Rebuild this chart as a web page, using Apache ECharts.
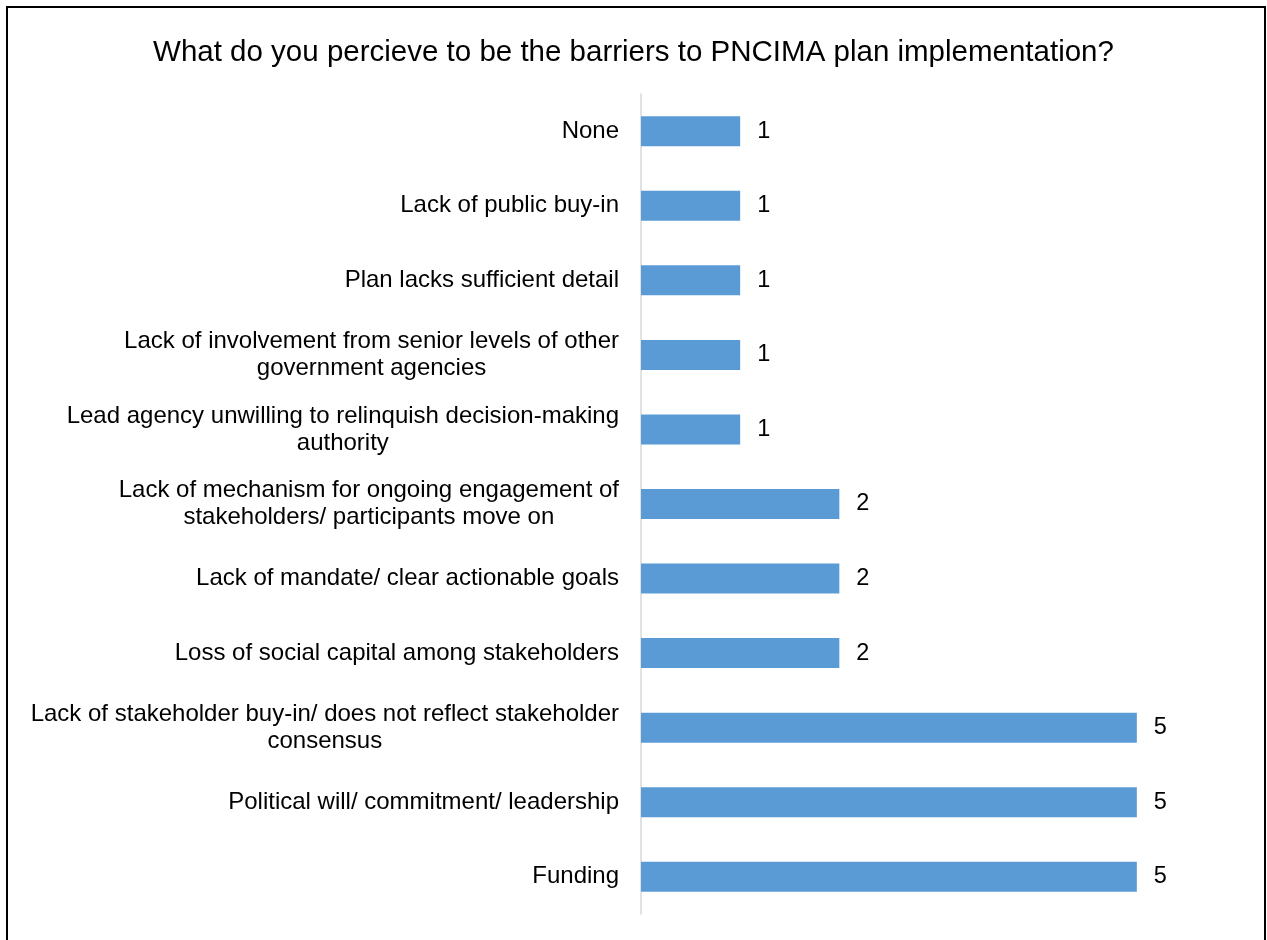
<!DOCTYPE html>
<html>
<head>
<meta charset="utf-8">
<script src="https://cdn.jsdelivr.net/npm/echarts@6/dist/echarts.min.js"></script>
<style>
  html, body { margin: 0; padding: 0; background: #fff; }
  #chart { width: 1267px; height: 940px; }
</style>
</head>
<body>
<div id="chart"></div>
<script>
// Survey responses: perceived barriers to plan implementation
const titleText = 'What do you percieve to be the barriers to PNCIMA plan implementation?';

const categories = [
  'None',
  'Lack of public buy-in',
  'Plan lacks sufficient detail',
  'Lack of involvement from senior levels of other\ngovernment agencies',
  'Lead agency unwilling to relinquish decision-making\nauthority',
  'Lack of mechanism for ongoing engagement of\nstakeholders/ participants move on',
  'Lack of mandate/ clear actionable goals',
  'Loss of social capital among stakeholders',
  'Lack of stakeholder buy-in/ does not reflect stakeholder\nconsensus',
  'Political will/ commitment/ leadership',
  'Funding'
];

const responses = [1, 1, 1, 1, 1, 2, 2, 2, 5, 5, 5];

const FONT = '"Liberation Sans", Arial, sans-serif';

const chart = echarts.init(document.getElementById('chart'), null, { renderer: 'canvas' });

chart.setOption({
  backgroundColor: '#ffffff',
  animation: false,
  title: {
    text: titleText,
    left: 'center',
    top: 33,
    textStyle: {
      fontFamily: FONT,
      fontSize: 29.5,
      fontWeight: 'normal',
      color: '#000000'
    }
  },
  graphic: [{
    type: 'rect',
    shape: { x: 7, y: 7, width: 1258, height: 960 },
    style: { fill: 'none', stroke: '#000000', lineWidth: 2 },
    silent: true
  }],
  grid: {
    left: 641,
    right: 31,
    top: 94,
    bottom: 26,
    containLabel: false
  },
  xAxis: {
    type: 'value',
    min: 0,
    max: 6,
    show: false
  },
  yAxis: {
    type: 'category',
    data: categories,
    inverse: true,
    axisLine: { show: true, lineStyle: { color: '#d9d9d9', width: 1.5 } },
    axisTick: { show: false },
    splitLine: { show: false },
    axisLabel: {
      align: 'right',
      margin: 22,
      fontFamily: FONT,
      fontSize: 24,
      color: '#000000',
      // center each line of a wrapped label within its block
      formatter: function (value) {
        return value.split('\n').map(function (line) {
          return '{c|' + line + '}';
        }).join('\n');
      },
      rich: {
        c: {
          align: 'center',
          fontFamily: FONT,
          fontSize: 24,
          lineHeight: 27,
          color: '#000000'
        }
      }
    }
  },
  series: [{
    type: 'bar',
    data: responses,
    barWidth: 30,
    itemStyle: { color: '#5b9bd5' },
    label: {
      show: true,
      position: 'right',
      distance: 17,
      fontFamily: FONT,
      fontSize: 23.5,
      color: '#000000'
    }
  }]
});
</script>
</body>
</html>
